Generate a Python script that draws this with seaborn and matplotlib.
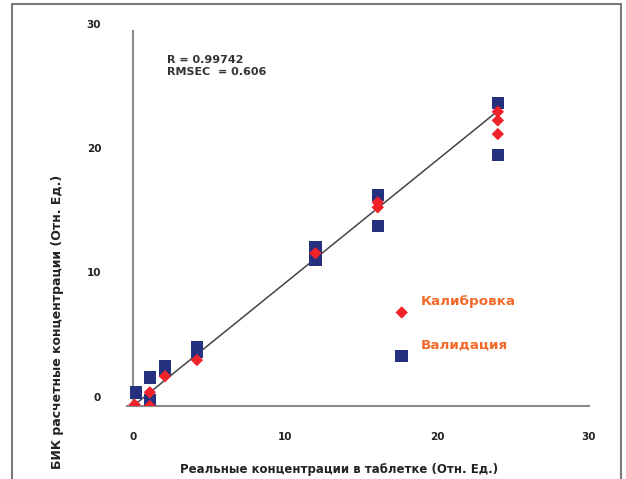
import matplotlib
matplotlib.use("Agg")
import matplotlib.pyplot as plt
import matplotlib.transforms as mtransforms
import numpy as np
import pandas as pd
import seaborn as sns
from matplotlib.lines import Line2D

# Калибровка (красные ромбы)
calib_real = [0.1, 1.1, 1.1, 2.1, 4.2, 12.0, 16.1, 16.1, 24.0, 24.0, 24.0]
calib_pred = [-0.1, 0.9, -0.2, 2.2, 3.5, 12.1, 16.2, 15.8, 23.5, 22.8, 21.7]

# Валидация (синие квадраты)
valid_real = [0.2, 1.1, 1.1, 2.1, 2.1, 4.2, 4.2, 12.0, 12.0, 16.1, 16.1, 24.0, 24.0]
valid_pred = [0.9, 0.3, 2.1, 3.0, 2.6, 4.5, 4.2, 12.6, 11.6, 16.8, 14.3, 24.2, 20.0]

# Линия регрессии
fit_slope = 0.99
fit_intercept = -0.2
fit_range = [0.0, 24.0]

ticks = [0, 10, 20, 30]
stats_text = "R = 0.99742\nRMSEC  = 0.606"

sns.set_style("white")
plt.rcParams["font.family"] = ["DejaVu Sans"]
plt.rcParams["font.weight"] = "bold"

fig = plt.figure(figsize=(6.26, 4.79), dpi=100)
ax = fig.add_axes([0.2029, 0.1524, 0.738, 0.7829])

df_valid = pd.DataFrame({"x": valid_real, "y": valid_pred})
df_calib = pd.DataFrame({"x": calib_real, "y": calib_pred})

sns.scatterplot(data=df_valid, x="x", y="y", marker="s", s=80, color="#25307f",
                edgecolor="none", label="Валидация", ax=ax, zorder=3)
sns.scatterplot(data=df_calib, x="x", y="y", marker="D", s=40, color="#f0222a",
                edgecolor="none", label="Калибровка", ax=ax, zorder=4)

xs = np.array(fit_range)
ax.plot(xs, fit_slope * xs + fit_intercept, color="#444444", linewidth=1.1, zorder=2)

ax.set_xlim(-0.4, 30)
ax.set_ylim(-0.2, 30)
ax.set_xticks(ticks)
ax.set_yticks(ticks)

for side in ["top", "right"]:
    ax.spines[side].set_visible(False)
for side in ["left", "bottom"]:
    ax.spines[side].set_color("#8a8a8a")
    ax.spines[side].set_linewidth(1.5)
ax.spines["left"].set_position(("data", 0))

ax.tick_params(axis="x", direction="out", length=5, width=1.2, color="#8a8a8a",
               pad=14, labelsize=7.5, labelcolor="#222222")
ax.tick_params(axis="y", direction="out", length=4, width=1.2, color="#8a8a8a",
               pad=19, labelsize=7.5, labelcolor="#222222")

# Подписи оси Y чуть выше делений, как в оригинале
y_shift = mtransforms.ScaledTranslation(0, 5 / 72, fig.dpi_scale_trans)
for lbl in ax.get_yticklabels():
    lbl.set_transform(lbl.get_transform() + y_shift)

ax.set_xlabel("Реальные концентрации в таблетке (Отн. Ед.)", fontsize=8.5,
              fontweight="bold", color="#222222")
ax.set_ylabel("БИК расчетные концентрации (Отн. Ед.)", fontsize=9,
              fontweight="bold", color="#222222")
ax.xaxis.set_label_coords(0.459, -0.152)
ax.yaxis.set_label_coords(-0.136, 0.225)

ax.text(0.087, 0.935, stats_text, transform=ax.transAxes, fontsize=8,
        fontweight="bold", color="#333333", va="top", linespacing=1.15)

# Легенда: маркеры ниже подписей
handles, labels = ax.get_legend_handles_labels()
order = [1, 0]
leg = ax.legend(
    [handles[i] for i in order],
    [labels[i] for i in order],
    loc="upper left",
    bbox_to_anchor=(0.58, 0.295),
    borderaxespad=0,
    borderpad=0,
    frameon=False,
    handlelength=1.0,
    handletextpad=0.95,
    labelspacing=2.25,
    scatterpoints=1,
    scatteryoffsets=[-0.75],
    prop={"size": 9.7, "weight": "bold"},
    labelcolor="#f26a2a",
)

# Рамка вокруг рисунка
frame_kw = dict(transform=fig.transFigure, color="#7a7a7a", linewidth=1.5)
fig.add_artist(Line2D([12 / 626, 12 / 626], [0, 1 - 4 / 479], **frame_kw))
fig.add_artist(Line2D([12 / 626, 621 / 626], [1 - 4 / 479, 1 - 4 / 479], **frame_kw))
fig.add_artist(Line2D([621 / 626, 621 / 626], [0, 1 - 4 / 479], **frame_kw))

fig.savefig("out.png", dpi=100)
plt.close(fig)
